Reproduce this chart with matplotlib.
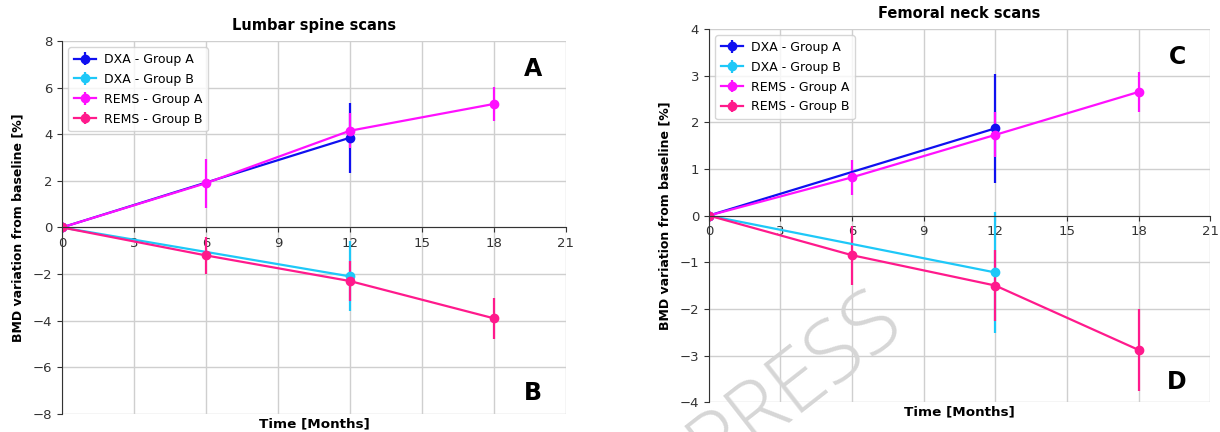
import matplotlib
matplotlib.use("Agg")
import matplotlib.pyplot as plt

months_rems = [0, 6, 12, 18]
months_dxa = [0, 12]

# Lumbar spine
lumbar_dxa_a = [0, 3.85]
lumbar_dxa_a_err = [0, 1.5]
lumbar_dxa_b = [0, -2.1]
lumbar_dxa_b_err = [0, 1.5]
lumbar_rems_a = [0, 1.9, 4.15, 5.3]
lumbar_rems_a_err = [0, 1.05, 0.75, 0.72]
lumbar_rems_b = [0, -1.2, -2.3, -3.9]
lumbar_rems_b_err = [0, 0.8, 0.85, 0.88]

# Femoral neck
femoral_dxa_a = [0, 1.87]
femoral_dxa_a_err = [0, 1.17]
femoral_dxa_b = [0, -1.22]
femoral_dxa_b_err = [0, 1.3]
femoral_rems_a = [0, 0.82, 1.73, 2.65]
femoral_rems_a_err = [0, 0.38, 0.48, 0.43]
femoral_rems_b = [0, -0.85, -1.5, -2.88]
femoral_rems_b_err = [0, 0.63, 0.77, 0.87]

colors = {
    "DXA - Group A": "#1010f0",
    "DXA - Group B": "#1ec8f8",
    "REMS - Group A": "#ff10ff",
    "REMS - Group B": "#ff1a8c",
}


def draw_panel(ax, series, ylim, ystep, title, top_letter, bottom_letter):
    for label, x, y, err in series:
        ax.errorbar(x, y, yerr=err, color=colors[label], marker="o",
                    markersize=6, linewidth=1.6, elinewidth=1.6, label=label)
    ax.set_xlim(0, 21)
    ax.set_ylim(*ylim)
    ax.set_xticks(range(0, 22, 3))
    ax.set_yticks([v * ystep for v in range(int(ylim[0] / ystep), int(ylim[1] / ystep) + 1)])
    ax.spines["left"].set_position(("data", 0))
    ax.spines["bottom"].set_position(("data", 0))
    ax.spines["top"].set_visible(False)
    ax.spines["right"].set_visible(False)
    for side in ("left", "bottom"):
        ax.spines[side].set_color("#333333")
    ax.grid(True, color="#cfcfcf", linewidth=1.0)
    ax.set_axisbelow(True)
    ax.tick_params(labelsize=9.5, colors="#333333")
    ax.set_title(title, fontsize=10.5, fontweight="bold", pad=8)
    ax.set_xlabel("Time [Months]", fontsize=9.7, fontweight="bold", va="center")
    ax.xaxis.set_label_coords(0.5, -0.027)
    ax.set_ylabel("BMD variation from baseline [%]", fontsize=9, fontweight="bold")
    ax.yaxis.set_label_coords(-0.075, 0.5)
    ax.legend(loc="upper left", fontsize=9, framealpha=0.8, borderpad=0.45,
              labelspacing=0.55, handlelength=1.8, handletextpad=0.6)
    ax.text(0.934, 0.925, top_letter, transform=ax.transAxes, fontsize=17,
            fontweight="bold", ha="center", va="center")
    ax.text(0.934, 0.055, bottom_letter, transform=ax.transAxes, fontsize=17,
            fontweight="bold", ha="center", va="center")


fig = plt.figure(figsize=(12.2, 4.32), dpi=100)
ax1 = fig.add_axes([0.0508, 0.042, 0.413, 0.863])
ax2 = fig.add_axes([0.581, 0.069, 0.411, 0.864])

draw_panel(
    ax1,
    [
        ("DXA - Group A", months_dxa, lumbar_dxa_a, lumbar_dxa_a_err),
        ("DXA - Group B", months_dxa, lumbar_dxa_b, lumbar_dxa_b_err),
        ("REMS - Group A", months_rems, lumbar_rems_a, lumbar_rems_a_err),
        ("REMS - Group B", months_rems, lumbar_rems_b, lumbar_rems_b_err),
    ],
    (-8, 8), 2, "Lumbar spine scans", "A", "B",
)
draw_panel(
    ax2,
    [
        ("DXA - Group A", months_dxa, femoral_dxa_a, femoral_dxa_a_err),
        ("DXA - Group B", months_dxa, femoral_dxa_b, femoral_dxa_b_err),
        ("REMS - Group A", months_rems, femoral_rems_a, femoral_rems_a_err),
        ("REMS - Group B", months_rems, femoral_rems_b, femoral_rems_b_err),
    ],
    (-4, 4), 1, "Femoral neck scans", "C", "D",
)

# faint watermark from the source page
fig.text(0.652, 0.115, "PRESS", fontsize=62, color="#d6d6d6", rotation=38,
         ha="center", va="center", family="Open Sans", fontweight="light",
         rotation_mode="anchor", zorder=10)

fig.savefig("out.png", dpi=100)
